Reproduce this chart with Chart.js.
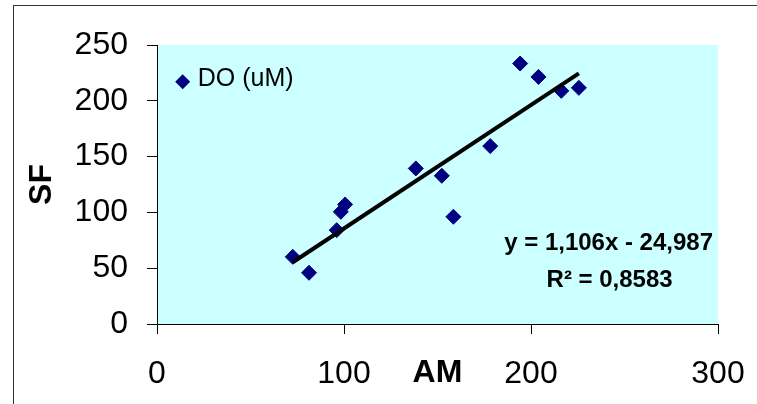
<!DOCTYPE html>
<html>
<head>
<meta charset="utf-8">
<script src="https://cdn.jsdelivr.net/npm/chart.js@4/dist/chart.umd.min.js"></script>
<style>
  html, body { margin: 0; padding: 0; background: #ffffff; }
  #wrap { width: 757px; height: 404px; position: relative; }
</style>
</head>
<body>
<div id="wrap"><canvas id="chart" width="757" height="404"></canvas></div>
<script>
// AM vs SF measurements
const amValues = [72.6, 81.3, 96.1, 98.3, 100.6, 138.4, 152.3, 158.5, 178.2, 194.2, 204.0, 216.2, 225.6];
const sfValues = [60.2, 45.9, 84.1, 100.5, 107.1, 139.4, 132.8, 96.1, 159.4, 233.4, 221.4, 208.9, 211.6];
const seriesLabel = 'DO (uM)';

// axis ranges and titles
const xTickValues = [0, 100, 200, 300];
const yTickValues = [0, 50, 100, 150, 200, 250];
const xTitle = 'AM';
const yTitle = 'SF';

// linear trendline fitted to the series
const trendSlope = 1.106;
const trendIntercept = -24.987;
const trendR2 = 0.8583;

const fmt = (v, d) => v.toFixed(d).replace('.', ',');
const equationText = 'y = ' + fmt(trendSlope, 3) + 'x ' + (trendIntercept < 0 ? '- ' : '+ ') + fmt(Math.abs(trendIntercept), 3);
const r2Text = 'R\u00B2 = ' + fmt(trendR2, 4);

const points = amValues.map((x, i) => ({ x: x, y: sfValues[i] }));
const xMin = Math.min(...amValues), xMax = Math.max(...amValues);
const trendPoints = [xMin, xMax].map(x => ({ x: x, y: trendSlope * x + trendIntercept }));

const FONT = "'Liberation Sans', Arial, sans-serif";
const MARKER = '#000080';

// background, plot fill and the outer frame
const framePlugin = {
  id: 'frame',
  beforeDraw(chart) {
    const { ctx, chartArea: a } = chart;
    ctx.save();
    ctx.fillStyle = '#ffffff';
    ctx.fillRect(0, 0, chart.width, chart.height);
    ctx.fillStyle = '#CCFFFF';
    ctx.fillRect(a.left, a.top, a.right - a.left, a.bottom - a.top);
    ctx.strokeStyle = '#333333';
    ctx.lineWidth = 1;
    ctx.strokeRect(13.5, 5.5, chart.width + 20, chart.height + 20);
    ctx.restore();
  }
};

// legend entry and regression labels placed in data space
const notesPlugin = {
  id: 'notes',
  afterDatasetsDraw(chart) {
    const { ctx, scales: { x, y } } = chart;
    const ds = chart.data.datasets[1];
    ctx.save();
    // legend
    const mx = x.getPixelForValue(13.75), my = y.getPixelForValue(217);
    const r = ds.pointRadius;
    ctx.beginPath();
    ctx.moveTo(mx - r, my); ctx.lineTo(mx, my - r); ctx.lineTo(mx + r, my); ctx.lineTo(mx, my + r);
    ctx.closePath();
    ctx.fillStyle = ds.backgroundColor;
    ctx.fill();
    ctx.fillStyle = '#000000';
    ctx.font = '25px ' + FONT;
    ctx.textAlign = 'left';
    ctx.textBaseline = 'middle';
    ctx.fillText(ds.label, mx + 15, my - 3);
    // equation, both lines centred on the same anchor
    ctx.font = 'bold 24px ' + FONT;
    ctx.textAlign = 'center';
    const ex = x.getPixelForValue(241.5);
    ctx.fillText(equationText, ex, y.getPixelForValue(72.5));
    ctx.fillText(r2Text, ex + 1, y.getPixelForValue(39.4));
    ctx.restore();
  }
};

new Chart(document.getElementById('chart'), {
  type: 'scatter',
  data: {
    datasets: [
      {
        label: 'Linear (' + seriesLabel + ')',
        data: trendPoints,
        showLine: true,
        borderColor: '#000000',
        borderWidth: 4,
        pointRadius: 0,
        order: 0
      },
      {
        label: seriesLabel,
        data: points,
        pointStyle: 'rectRot',
        pointRadius: 7.5,
        backgroundColor: MARKER,
        borderColor: MARKER,
        borderWidth: 1,
        order: 1
      }
    ]
  },
  options: {
    responsive: false,
    animation: false,
    layout: { padding: { left: 0, top: 45, right: 39, bottom: 0 } },
    plugins: { legend: { display: false }, tooltip: { enabled: false } },
    scales: {
      x: {
        type: 'linear',
        min: xTickValues[0],
        max: xTickValues[xTickValues.length - 1],
        afterBuildTicks(s) { s.ticks = xTickValues.map(v => ({ value: v })); },
        ticks: { font: { family: FONT, size: 32 }, color: '#000000', padding: 21, maxRotation: 0 },
        grid: { drawOnChartArea: false, drawTicks: true, tickLength: 10, color: '#000000', tickColor: '#000000' },
        border: { display: true, color: '#000000', width: 1 },
        title: { display: true, text: xTitle, color: '#000000', font: { family: FONT, size: 32, weight: 'bold' }, padding: { top: 0, bottom: 12 } },
        afterFit(s) { s.height = 80; s.paddingLeft = 0; s.paddingRight = 0; }
      },
      y: {
        type: 'linear',
        min: yTickValues[0],
        max: yTickValues[yTickValues.length - 1],
        afterBuildTicks(s) { s.ticks = yTickValues.map(v => ({ value: v })); },
        ticks: { font: { family: FONT, size: 32 }, color: '#000000', padding: 19 },
        grid: { drawOnChartArea: false, drawTicks: true, tickLength: 10, color: '#000000', tickColor: '#000000' },
        border: { display: true, color: '#000000', width: 1 },
        title: { display: true, text: yTitle, color: '#000000', font: { family: FONT, size: 32, weight: 'bold' }, padding: { top: 23, bottom: 0 } },
        afterFit(s) { s.width = 157; s.paddingTop = 0; s.paddingBottom = 0; }
      }
    }
  },
  plugins: [framePlugin, notesPlugin]
});
</script>
</body>
</html>
